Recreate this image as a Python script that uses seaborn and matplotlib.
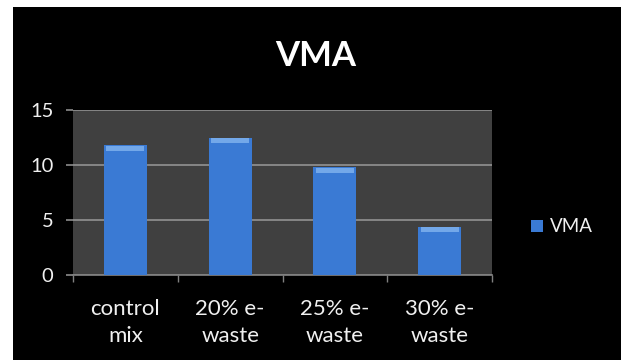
import matplotlib
matplotlib.use("Agg")
import matplotlib.pyplot as plt
import seaborn as sns
import pandas as pd
from matplotlib.patches import Rectangle

categories = ["control\nmix", "20% e-\nwaste", "25% e-\nwaste", "30% e-\nwaste"]
vma_values = [11.8, 12.5, 9.8, 4.4]
y_ticks = [0, 5, 10, 15]

df = pd.DataFrame({"category": categories, "VMA": vma_values})

sns.set_theme(style="dark")
plt.rcParams["font.family"] = ["Lato", "DejaVu Sans"]

fig = plt.figure(figsize=(6.21, 3.60), dpi=100, facecolor="white")
# black chart area inside a thin white margin
fig.add_artist(Rectangle((13 / 621, 0), 1 - 13 / 621, 1 - 7 / 360,
                         transform=fig.transFigure, facecolor="black",
                         edgecolor="none", zorder=-10))

ax = fig.add_axes([73 / 621, 1 - 275 / 360, (492 - 73) / 621, (275 - 110) / 360])
ax.set_facecolor("#404040")

sns.barplot(data=df, x="category", y="VMA", color="#3a7ad4", width=0.41,
            saturation=1, ax=ax, zorder=3, label="VMA", edgecolor="none")

# lighter cap on top of each bar
for p in list(ax.patches):
    x0, w = p.get_x(), p.get_width()
    h = p.get_height()
    ax.add_patch(Rectangle((x0 + w * 0.06, h - 0.5), w * 0.88, 0.45,
                           facecolor="#8cbcf2", edgecolor="none", zorder=4, alpha=0.7))

ax.set_ylim(0, 15)
ax.set_xlim(-0.5, 3.5)
ax.set_yticks(y_ticks)
ax.set_yticklabels([str(t) for t in y_ticks], color="#f0f0f0", fontsize=14.5)
ax.tick_params(axis="y", length=5, width=1.2, color="#8c8c8c", pad=9, left=True)

# category labels centred, tick marks at category boundaries
ax.set_xticks(range(len(categories)))
ax.set_xticklabels(categories, color="#f0f0f0", fontsize=16, linespacing=1.45)
ax.tick_params(axis="x", length=0, pad=17)
ax.set_xticks([-0.5, 0.5, 1.5, 2.5, 3.5], minor=True)
ax.tick_params(axis="x", which="minor", length=5, color="#808080", bottom=True)

ax.grid(axis="y", color="#8c8c8c", linewidth=1.3, zorder=1)
ax.grid(axis="x", visible=False)
ax.set_axisbelow(True)
for s in ["top", "right", "left"]:
    ax.spines[s].set_visible(False)
ax.spines["bottom"].set_color("#808080")
ax.set_xlabel("")
ax.set_ylabel("")

fig.text(316 / 621, 1 - 56 / 360, "VMA", color="white", fontsize=25,
         fontweight="bold", ha="center", va="center")

handles, labels = ax.get_legend_handles_labels()
if ax.get_legend() is not None:
    ax.get_legend().remove()
leg = fig.legend(handles[:1], labels[:1], loc="center left",
                 bbox_to_anchor=(514 / 621, 1 - 227 / 360), frameon=False,
                 handlelength=0.65, handleheight=0.65, handletextpad=0.35,
                 fontsize=13.5, labelcolor="#f0f0f0")

fig.savefig("out.png", dpi=100, facecolor=fig.get_facecolor())
